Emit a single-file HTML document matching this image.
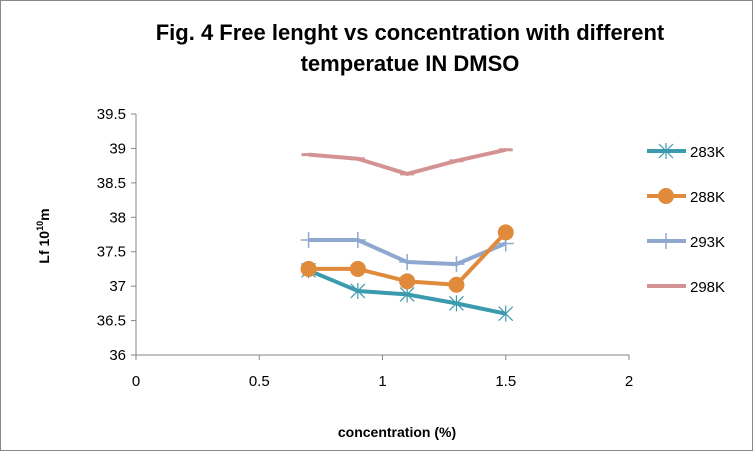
<!DOCTYPE html>
<html><head><meta charset="utf-8"><style>
html,body{margin:0;padding:0;background:#fff}
svg{display:block;font-family:"Liberation Sans",Arial,sans-serif}
</style></head><body>
<svg id="c" width="753" height="451" viewBox="0 0 753 451">
<rect x="0.5" y="0.5" width="752" height="450" fill="#fff" stroke="#888"/>
<text x="410" y="40" text-anchor="middle" font-size="22" font-weight="bold" fill="#000">Fig. 4 Free lenght vs concentration with different</text>
<text x="410" y="71" text-anchor="middle" font-size="22" font-weight="bold" fill="#000">temperatue IN DMSO</text>
<g id="axes"></g>
<g id="series"></g>
<g id="legend"></g>
<text x="397" y="437" text-anchor="middle" font-size="14" font-weight="bold">concentration (%)</text>
<text transform="translate(49,236) rotate(-90)" text-anchor="middle" font-size="14" font-weight="bold">Lf 10<tspan font-size="9" dy="-6">10</tspan><tspan dy="6">m</tspan></text>
</svg>
<script>
const xTicks=[0,0.5,1,1.5,2];
const yTicks=[36,36.5,37,37.5,38,38.5,39,39.5];
const xTickLabels=["0","0.5","1","1.5","2"];
const yTickLabels=["36","36.5","37","37.5","38","38.5","39","39.5"];
const concentration=[0.7,0.9,1.1,1.3,1.5];
const seriesNames=["283K","288K","293K","298K"];
const s283=[37.23,36.93,36.88,36.75,36.6];
const s288=[37.25,37.25,37.07,37.02,37.78];
const s293=[37.67,37.67,37.35,37.32,37.62];
const s298=[38.91,38.85,38.63,38.82,38.98];
const NS="http://www.w3.org/2000/svg";
const X0=136,X1=629,Y0=355,Y1=114;
const xs=v=>X0+(v-0)/(2-0)*(X1-X0);
const ys=v=>Y0-(v-36)/(39.5-36)*(Y0-Y1);
function mk(t,a,p){const e=document.createElementNS(NS,t);for(const k in a)e.setAttribute(k,a[k]);p.appendChild(e);return e;}
const ax=document.getElementById('axes');
let l=mk('line',{x1:X0,y1:Y0,x2:X1,y2:Y0,stroke:'#868686'},ax);


l=mk('line',{x1:X0,y1:Y0,x2:X0,y2:Y1,stroke:'#868686'},ax);


xTicks.forEach((v,i)=>{const x=xs(v);mk('line',{x1:x,y1:Y0,x2:x,y2:Y0+5,stroke:'#868686'},ax);
const t=mk('text',{x:x,y:Y0+31,'text-anchor':'middle','font-size':15},ax);t.textContent=xTickLabels[i];

});
yTicks.forEach((v,i)=>{const y=ys(v);mk('line',{x1:X0-5,y1:y,x2:X0,y2:y,stroke:'#868686'},ax);
const t=mk('text',{x:X0-10,y:y+5,'text-anchor':'end','font-size':15},ax);t.textContent=yTickLabels[i];

});
const colors=["#3c9aae","#e08a3c","#8fa8d0","#d49393"];
const data=[s283,s288,s293,s298];
const sg=document.getElementById('series');
function marker(kind,x,y,c,p){
 if(kind==0){mk('path',{d:`M${x-7},${y-7}L${x+7},${y+7}M${x-7},${y+7}L${x+7},${y-7}M${x},${y-8}V${y+8}`,stroke:c,'stroke-width':1.2,fill:'none'},p);}
 else if(kind==1){mk('circle',{cx:x,cy:y,r:8,fill:c},p);}
 else if(kind==2){mk('path',{d:`M${x-8},${y}H${x+8}M${x},${y-8}V${y+8}`,stroke:c,'stroke-width':1.5},p);}
 else {mk('path',{d:`M${x-7},${y}H${x+7}`,stroke:c,'stroke-width':3},p);}
}
[3,2,0,1].forEach(k=>{
 const g=mk('g',{},sg);
 
 
 const pts=concentration.map((c,i)=>xs(c)+','+ys(data[k][i])).join(' ');
 mk('polyline',{points:pts,fill:'none',stroke:colors[k],'stroke-width':4,'stroke-linejoin':'round'},g);
 concentration.forEach((c,i)=>marker(k,xs(c),ys(data[k][i]),colors[k],g));
});
const lg=document.getElementById('legend');
seriesNames.forEach((n,k)=>{
 const y=151+k*45;const g=mk('g',{},lg);
 
 
 mk('line',{x1:647,y1:y,x2:686,y2:y,stroke:colors[k],'stroke-width':4},g);
 marker(k,666,y,colors[k],g);
 const t=mk('text',{x:690,y:y+6,'font-size':15},g);t.textContent=n;
});
</script>
</body></html>
